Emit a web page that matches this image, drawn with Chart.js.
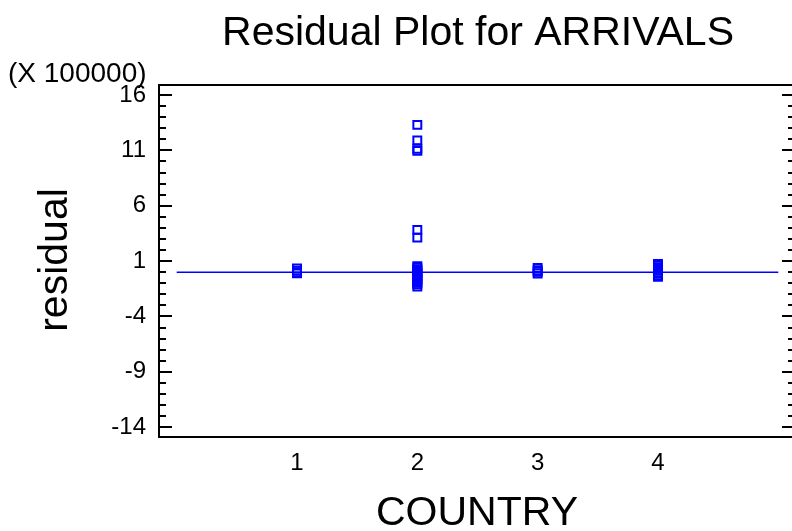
<!DOCTYPE html>
<html>
<head>
<meta charset="utf-8">
<script src="https://cdn.jsdelivr.net/npm/chart.js@4"></script>
<style>
html,body{margin:0;padding:0;background:#fff;}
#wrap{width:792px;height:531px;}
</style>
</head>
<body>
<div id="wrap"><canvas id="c" width="792" height="531"></canvas></div>
<script>
// ---- data (residuals in units of 100000) ----
const titleText = "Residual Plot for ARRIVALS";
const xTitle = "COUNTRY";
const yTitle = "residual";
const yScaleNote = "(X 100000)";
const countryTicks = [1, 2, 3, 4];
const yTickValues = [-14, -9, -4, 1, 6, 11, 16];
const residCountry1 = [0.34, 0.14, 0.0, -0.11];
const residCountry2 = [13.3, 11.9, 11.15, 10.95, 3.82, 3.12,
  0.55, 0.4, 0.25, 0.1, -0.05, -0.2, -0.35, -0.5, -0.65, -0.8, -0.95, -1.1, -1.3];
const residCountry3 = [0.38, 0.18, 0.04, -0.12];
const residCountry4 = [0.75, 0.6, 0.45, 0.3, 0.15, 0.0, -0.15, -0.3, -0.41];
const fitLine = [[0, 0], [5, 0]];

const residByCountry = [residCountry1, residCountry2, residCountry3, residCountry4];
const points = [];
residByCountry.forEach((arr, i) => arr.forEach(v => points.push({x: countryTicks[i], y: v})));

const BLUE = '#0000ff';
const FONT = 'Arial, "Liberation Sans", sans-serif';

const framePlugin = {
  id: 'frame',
  afterDraw(chart) {
    const ctx = chart.ctx;
    const a = chart.chartArea;
    const ys = chart.scales.y;
    ctx.save();
    ctx.strokeStyle = '#000';
    ctx.lineWidth = 2;
    ctx.beginPath();
    ctx.moveTo(a.left, a.top); ctx.lineTo(795, a.top);
    ctx.moveTo(a.left, a.top - 1); ctx.lineTo(a.left, a.bottom + 1);
    ctx.moveTo(a.left, a.bottom); ctx.lineTo(795, a.bottom);
    for (let v = Math.ceil(ys.min); v <= Math.floor(ys.max); v++) {
      const py = Math.round(ys.getPixelForValue(v));
      const major = yTickValues.includes(v);
      ctx.moveTo(a.left, py); ctx.lineTo(a.left + (major ? 13 : 7), py);
      ctx.moveTo(795, py); ctx.lineTo(795 - (major ? 13 : 7), py);
    }
    ctx.stroke();
    // texts
    ctx.fillStyle = '#000';
    ctx.textBaseline = 'alphabetic';
    ctx.textAlign = 'center';
    ctx.font = '41px ' + FONT;
    ctx.fillText(titleText, 478, 45);
    ctx.textAlign = 'left';
    ctx.font = '28px ' + FONT;
    ctx.fillText(yScaleNote, 8, 82);
    ctx.textAlign = 'center';
    ctx.font = '41px ' + FONT;
    ctx.fillText(xTitle, 477, 525);
    ctx.save();
    ctx.translate(67, 260);
    ctx.rotate(-Math.PI / 2);
    ctx.fillText(yTitle, 0, 0);
    ctx.restore();
    ctx.restore();
  }
};

new Chart(document.getElementById('c'), {
  type: 'scatter',
  data: {
    datasets: [
      {
        type: 'line',
        data: fitLine.map(p => ({x: p[0], y: p[1]})),
        borderColor: BLUE,
        borderWidth: 1.6,
        pointRadius: 0,
        fill: false,
        order: 2
      },
      {
        data: points,
        pointStyle: 'rect',
        pointRadius: 5.6,
        pointBorderWidth: 2,
        pointBorderColor: BLUE,
        pointBackgroundColor: 'rgba(255,255,255,0)',
        order: 1
      }
    ]
  },
  options: {
    responsive: false,
    devicePixelRatio: 1,
    animation: false,
    layout: {autoPadding: false, padding: {top: 85, left: 0, right: 0, bottom: 0}},
    plugins: {legend: {display: false}, tooltip: {enabled: false}, title: {display: false}},
    scales: {
      x: {
        type: 'linear',
        min: -0.147,
        max: 5.114,
        grid: {display: false, drawTicks: false},
        border: {display: false},
        afterBuildTicks: s => { s.ticks = countryTicks.map(v => ({value: v})); },
        afterFit: s => { s.height = 94; },
        ticks: {color: '#000', font: {family: FONT, size: 24}, padding: 12, autoSkip: false, maxRotation: 0}
      },
      y: {
        type: 'linear',
        min: -14.88,
        max: 16.9,
        grid: {display: false, drawTicks: false},
        border: {display: false},
        afterBuildTicks: s => { s.ticks = yTickValues.map(v => ({value: v})); },
        afterFit: s => { s.width = 159; },
        ticks: {color: '#000', font: {family: FONT, size: 24}, padding: 13, autoSkip: false}
      }
    }
  },
  plugins: [framePlugin]
});
</script>
</body>
</html>
